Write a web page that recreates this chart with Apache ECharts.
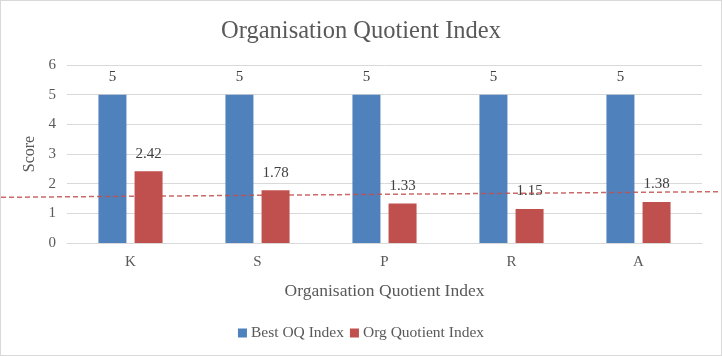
<!DOCTYPE html>
<html>
<head>
<meta charset="utf-8">
<script src="https://cdn.jsdelivr.net/npm/echarts@6/dist/echarts.min.js"></script>
<style>
html,body{margin:0;padding:0;background:#fff;}
#c{width:720px;height:354px;border:1px solid #d9d9d9;}
</style>
</head>
<body>
<div id="c"></div>
<script>
var categories = ['K', 'S', 'P', 'R', 'A'];
var bestOQ = [5, 5, 5, 5, 5];
var orgQuotient = [2.42, 1.78, 1.33, 1.15, 1.38];
var trendX = [0, 1];
var trendY = [1.54, 1.73];
var yTicks = [0, 1, 2, 3, 4, 5, 6];

var serif = '"Liberation Serif", "DejaVu Serif", serif';
var chart = echarts.init(document.getElementById('c'));
chart.setOption({
  animation: false,
  title: {
    text: 'Organisation Quotient Index',
    left: 'center',
    top: 13,
    textStyle: {fontFamily: serif, fontSize: 24.5, fontWeight: 'normal', color: '#595959'}
  },
  legend: {
    bottom: 9,
    left: 'center',
    itemWidth: 9, itemHeight: 9, itemGap: 6,
    icon: 'rect',
    data: ['Best OQ Index', 'Org Quotient Index'],
    textStyle: {fontFamily: serif, fontSize: 15.5, color: '#595959', padding: [0, 0, 0, -1]}
  },
  grid: [
    {left: 66, right: 19, top: 64, bottom: 112},
    {left: 0, right: 0, top: 64, bottom: 112}
  ],
  xAxis: [{
    type: 'category',
    data: categories,
    gridIndex: 0,
    axisTick: {show: false},
    axisLine: {lineStyle: {color: '#d9d9d9'}},
    axisLabel: {fontFamily: serif, fontSize: 15, color: '#595959', margin: 12},
    name: 'Organisation Quotient Index',
    nameLocation: 'middle',
    nameGap: 39,
    nameTextStyle: {fontFamily: serif, fontSize: 17.5, color: '#595959'}
  }, {
    type: 'value', gridIndex: 1, min: 0, max: 1, show: false
  }],
  yAxis: [{
    type: 'value',
    gridIndex: 0,
    min: yTicks[0], max: yTicks[yTicks.length - 1], interval: 1,
    axisLine: {show: false},
    axisTick: {show: false},
    splitLine: {lineStyle: {color: '#d9d9d9'}},
    axisLabel: {fontFamily: serif, fontSize: 15, color: '#595959', margin: 11},
    name: 'Score',
    nameLocation: 'middle',
    nameGap: 23,
    nameRotate: 90,
    nameTextStyle: {fontFamily: serif, fontSize: 16, color: '#595959'}
  }, {
    type: 'value', gridIndex: 1, min: 0, max: 6, show: false
  }],
  series: [{
    name: 'Best OQ Index',
    type: 'bar',
    xAxisIndex: 0, yAxisIndex: 0,
    data: bestOQ,
    barWidth: 28,
    barGap: '29%',
    itemStyle: {color: '#4F81BD'},
    label: {show: true, position: 'top', distance: 10, fontFamily: serif, fontSize: 15, color: '#404040'}
  }, {
    name: 'Org Quotient Index',
    type: 'bar',
    xAxisIndex: 0, yAxisIndex: 0,
    data: orgQuotient,
    barWidth: 28,
    itemStyle: {color: '#C0504D'},
    label: {show: true, position: 'top', distance: 10, fontFamily: serif, fontSize: 15, color: '#404040'}
  }, {
    name: 'trend',
    type: 'line',
    xAxisIndex: 1, yAxisIndex: 1,
    data: trendX.map(function (x, i) { return [x, trendY[i]]; }),
    symbol: 'none',
    z: 5,
    silent: true,
    lineStyle: {color: '#C0504D', width: 1.5, type: [5, 3], opacity: 0.85}
  }]
});
</script>
</body>
</html>
